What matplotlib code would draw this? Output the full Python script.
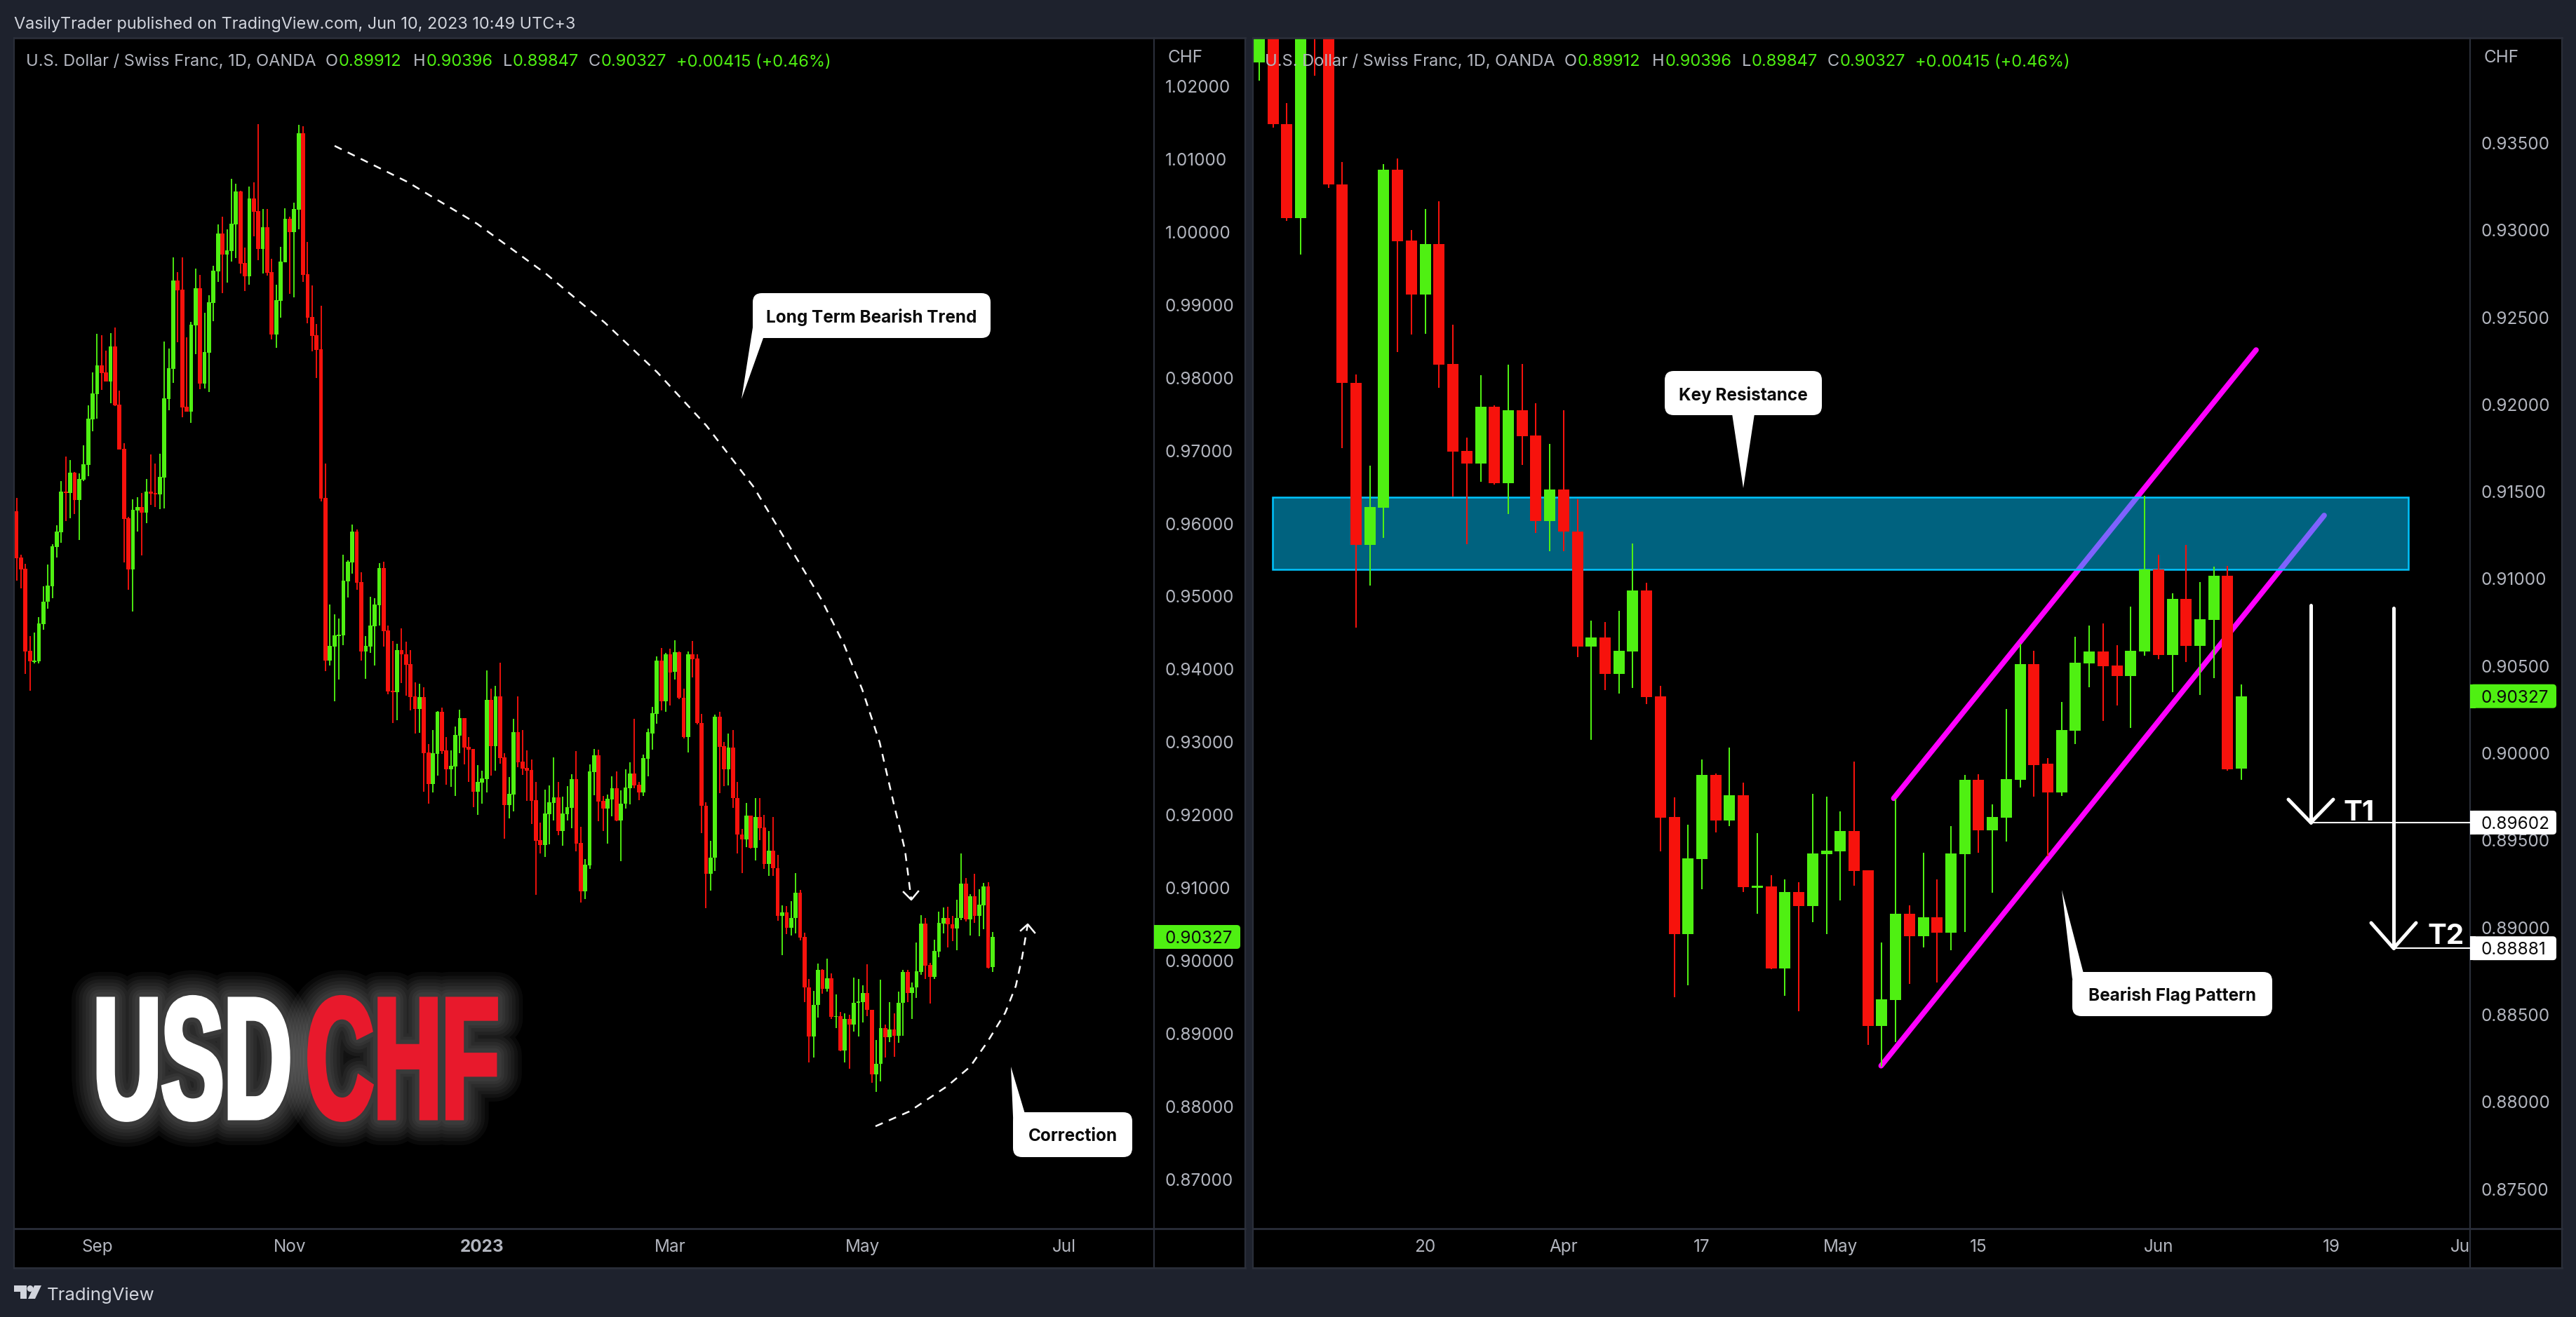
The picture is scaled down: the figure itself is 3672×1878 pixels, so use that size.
import numpy as np
import matplotlib
matplotlib.use("Agg")
import matplotlib.pyplot as plt
from matplotlib.patches import Rectangle, FancyBboxPatch, Polygon, Circle
from matplotlib.patheffects import AbstractPathEffect
from matplotlib.transforms import Affine2D

plt.rcParams['font.family'] = ['Inter', 'DejaVu Sans']

W, H = 3672, 1878

# daily USD/CHF candles. the right panel shows the last 72 of them
opens = [
    .96171, .95530, .95379, .94252, .94101, .94109, .94621, .94923, .95140, .95678,
    .95880, .96440, .96418, .96698, .96322, .96599, .96808, .97431, .97777, .98172,
    .98075, .97950, .98432, .97633, .97026, .96072, .95372, .96182, .96227, .96149,
    .96440, .96418, .96403, .96632, .97710, .98124, .99336, .99211, .97604, .97537,
    .98720, .99230, .97922, .98345, .99028, .99461, .99981, .99692, .99740, 1.00106,
    1.00558, .99577, .99394, 1.00462, 1.00289, .99769, 1.00068, .99452, .98595, .99057,
    .99586, 1.00183, 1.00000, 1.00308, 1.01357, .99423, .98836, .98586, .98393, .96352,
    .94120, .94311, .94455, .94466, .95206, .95468, .95891, .95199, .94245, .94311,
    .94591, .94879, .95391, .94532, .93704, .93682, .94264, .94205, .94072, .93630,
    .93457, .93619, .92860, .92426, .92838, .93416, .92886, .92628, .92665, .93089,
    .93332, .92934, .92908, .92319, .92444, .92492, .93582, .92945, .93630, .92790,
    .92138, .92282, .93137, .92735, .92647, .92617, .92205, .91656, .91590, .92013,
    .92168, .92242, .91781, .92013, .92102, .92492, .91615, .90950, .91313, .92588,
    .92820, .92194, .92087, .92212, .92367, .91921, .92157, .92370, .92570, .92417,
    .92309, .92771, .93120, .93385, .94121, .93561, .94205,
    .93964, .94234, .93608, .93068, .94205, .94151, .93262, .92124, .91194, .91410,
    .93348, .92942, .92632, .92922, .92234, .91732, .91660, .91988, .91550, .91968,
    .91824, .91330, .91514, .91271, .90613, .90664, .90456, .90583, .90932, .90325,
    .89634, .88962, .89392, .89874, .89614, .89759, .89228, .89235, .88764, .89203,
    .89122, .89420, .89436, .89554, .89327, .88436, .88584, .89078, .88951, .89060,
    .88970, .89420, .89847, .89558, .89630, .89847, .90512, .89939, .89775, .90129,
    .90514, .90583, .90503, .90443, .90583, .91054, .90563, .90886, .90616, .90763,
    .91017, .89912,
]
highs = [
    .96352, .95575, .95449, .94455, .94503, .94717, .95140, .95438, .95715, .95976,
    .96584, .96921, .96873, .96709, .96691, .97071, .97623, .98075, .98605, .98586,
    .98374, .98614, .98691, .97825, .97103, .96094, .96330, .96363, .96418, .96613,
    .96950, .96824, .96958, .98499, .98403, .99654, .99452, .99654, .98557, .98768,
    .99500, .99413, .98894, .99134, .99538, 1.00106, 1.00212, 1.00039, 1.00732, 1.00664,
    1.00568, .99789, 1.00626, 1.00684, 1.01482, 1.00318, 1.00318, .99635, .99278, .99798,
    1.00328, 1.00212, 1.00405, 1.01473, 1.01453, .99866, .99269, .98739, .98990, .96824,
    .94890, .94753, .94698, .95575, .95494, .95987, .95917, .95332, .94455, .94996,
    .94974, .95457, .95475, .94602, .94389, .94352, .94562, .94378, .94264, .93822,
    .93799, .93755, .92974, .93166, .93427, .93475, .93070, .92886, .93214, .93442,
    .93332, .93070, .92908, .92687, .92610, .93984, .93733, .93774, .94090, .92849,
    .92521, .93321, .93630, .93166, .92886, .92761, .92455, .91895, .92348, .92407,
    .92790, .92455, .92253, .92396, .92558, .92879, .91840, .91395, .92695, .92908,
    .92897, .92260, .92282, .92532, .92599, .92337, .92628, .92720, .93321, .92452,
    .92825, .93188, .93483, .94180, .94293, .94229, .94278,
    .94401, .94244, .93730, .94244, .94386, .94210, .93390, .92174, .91648, .93380,
    .93412, .93002, .93122, .93166, .92456, .91812, .92170, .91996, .92230, .92234,
    .92006, .91776, .91968, .91456, .90761, .90752, .90817, .91202, .90976, .90385,
    .89747, .89590, .89964, .89884, .90032, .89831, .89542, .89300, .89277, .89260,
    .89766, .89750, .89667, .89951, .89327, .88914, .89738, .89126, .89429, .89277,
    .89581, .89874, .89879, .89706, .90253, .90627, .90588, .89971, .90292, .90669,
    .90731, .90745, .90620, .90840, .91475, .91137, .90918, .91193, .90980, .91070,
    .91075, .90396,
]
lows = [
    .95217, .95111, .93936, .93707, .94079, .94079, .94543, .94831, .94974, .95534,
    .95737, .96035, .96072, .96131, .95774, .96587, .96654, .97270, .97444, .97838,
    .97950, .97652, .97614, .97017, .95468, .95092, .94794, .95891, .95564, .96006,
    .96256, .96227, .96197, .96212, .97556, .97931, .98489, .97460, .97537, .97383,
    .98326, .97845, .97854, .97806, .98778, .99317, .99163, .99307, .99596, .99644,
    .99432, .99192, .99278, .99942, .99615, .99432, .99404, .98528, .98412, .98826,
    .99586, .99153, .99105, 1.00039, .99317, .98749, .98364, .97998, .96304, .93976,
    .94054, .93560, .93858, .94330, .94985, .95313, .95092, .94120, .93869, .94227,
    .94054, .94602, .94311, .93656, .93265, .93302, .93811, .93641, .93439, .93118,
    .93129, .92319, .92157, .92312, .92536, .92838, .92415, .92389, .92264, .92849,
    .92695, .92455, .92109, .92002, .92157, .92312, .92536, .92610, .92706, .91671,
    .91954, .92050, .92658, .92551, .92190, .91877, .90900, .91476, .91420, .91597,
    .91929, .91726, .91579, .91929, .91818, .91501, .90800, .90850, .91265, .92271,
    .91914, .91781, .91608, .91984, .91914, .91369, .92087, .92142, .92368, .92206,
    .92260, .92530, .92899, .93252, .93439, .93419, .93502,
    .93856, .93590, .93052, .92860, .93886, .93242, .91750, .90720, .90960, .91236,
    .92300, .92400, .92404, .92094, .91474, .91200, .91556, .91542, .91372, .91654,
    .91262, .91160, .91160, .90553, .90078, .90364, .90343, .90373, .90283, .89436,
    .88602, .88669, .89219, .89544, .89581, .89205, .89078, .88762, .88607, .88519,
    .89029, .88962, .89154, .89239, .88327, .88203, .88344, .88676, .88886, .88685,
    .88870, .88974, .89429, .89200, .89494, .89803, .89750, .89410, .89754, .90052,
    .90378, .90184, .90274, .90145, .90558, .90539, .90350, .90523, .90334, .90430,
    .89898, .89847,
]
closes = [
    .95527, .95372, .94245, .94105, .94120, .94628, .94926, .95151, .95689, .95891,
    .96440, .96418, .96698, .96322, .96613, .96816, .97440, .97787, .98172, .98066,
    .97950, .98432, .97623, .97017, .96065, .95372, .96186, .96227, .96149, .96440,
    .96411, .96396, .96643, .97719, .98133, .99336, .99202, .97594, .97537, .98730,
    .99230, .97922, .98355, .99038, .99471, .99981, .99692, .99750, 1.00116, 1.00558,
    .99567, .99394, 1.00462, 1.00279, .99769, 1.00068, .99442, .98595, .99067, .99596,
    1.00183, 1.00000, 1.00318, 1.01357, .99413, .98826, .98576, .98383, .96344, .94120,
    .94322, .94466, .94477, .95217, .95475, .95891, .95188, .94245, .94322, .94602,
    .94890, .95391, .94525, .93696, .93682, .94264, .94201, .94065, .93623, .93457,
    .93619, .92849, .92426, .92853, .93416, .92879, .92628, .92676, .93100, .93332,
    .92927, .92897, .92319, .92455, .92503, .93582, .92945, .93630, .92783, .92138,
    .92289, .93137, .92724, .92636, .92610, .92194, .91645, .91590, .92021, .92175,
    .92242, .91781, .92021, .92109, .92492, .91608, .90950, .91317, .92595, .92820,
    .92186, .92087, .92223, .92367, .91921, .92160, .92378, .92569, .92403, .92309,
    .92781, .93134, .93399, .94121, .93561, .94205, .93959,
    .94234, .93608, .93068, .94205, .94141, .93262, .92124, .91194, .91414, .93348,
    .92938, .92632, .92922, .92230, .91728, .91660, .91988, .91550, .91968, .91820,
    .91330, .91514, .91270, .90613, .90664, .90456, .90588, .90932, .90322, .89632,
    .88962, .89396, .89874, .89614, .89759, .89233, .89240, .88764, .89203, .89122,
    .89424, .89440, .89554, .89325, .88436, .88588, .89078, .88951, .89060, .88970,
    .89424, .89847, .89558, .89634, .89851, .90512, .89932, .89775, .90133, .90519,
    .90583, .90498, .90443, .90588, .91054, .90563, .90886, .90616, .90768, .91017,
    .89907, .90327,
]

left_yticks = [.87, .88, .89, .90, .91, .92, .93, .94, .95, .96, .97, .98, .99, 1.00, 1.01, 1.02]
right_yticks = [.875, .88, .885, .89, .895, .90, .905, .91, .915, .92, .925, .93, .935]
left_xtick_pos = [18.1, 61, 103.9, 145.9, 189, 234]
left_xtick_lab = ["Sep", "Nov", "2023", "Mar", "May", "Jul"]
right_xtick_pos = [12, 22, 32, 42, 52, 65, 77.5, 86.8]
right_xtick_lab = ["20", "Apr", "17", "May", "15", "Jun", "19", "Ju"]

last_close = .90327
target_1 = .89602
target_2 = .88881
zone_low, zone_high = .91054, .9147
channel_upper = ([45.86, 72.06], [.89741, .92313])
channel_lower = ([44.95, 76.98], [.88207, .91364])

BG = "#1e222d"
LINE = "#2a2e39"
GREEN = "#4ff012"
RED = "#f7120c"
GREY = "#b2b5be"
ZONE = "#00c4fe"
MAGENTA = "#ff00ff"


def pane_axes(fig, left, top, right, bottom):
    return fig.add_axes([left / W, 1 - bottom / H, (right - left) / W, (bottom - top) / H],
                        facecolor="black")


def draw_candles(ax, o, h, l, c, body_width, wick_lw):
    o, h, l, c = map(np.array, (o, h, l, c))
    x = np.arange(len(o))
    colors = np.where(c >= o, GREEN, RED)
    ax.vlines(x, l, h, colors=list(colors), lw=wick_lw, zorder=3)
    ax.bar(x, np.abs(c - o), bottom=np.minimum(o, c), width=body_width, color=list(colors),
           linewidth=0, zorder=3.5)


def style_pane(ax, yticks, xpos, xlab, xlim, ylim):
    ax.set_xlim(*xlim)
    ax.set_ylim(*ylim)
    ax.yaxis.tick_right()
    ax.set_yticks(yticks, [f"{v:.5f}" for v in yticks])
    ax.set_xticks(xpos, xlab)
    ax.tick_params(axis="y", length=0, pad=11.5, labelsize=17.5, labelcolor=GREY)
    ax.tick_params(axis="x", length=0, pad=11, labelsize=17.5, labelcolor=GREY)
    for lab in ax.get_xticklabels():
        if lab.get_text() == "2023":
            lab.set_fontweight("bold")
    for spine in ax.spines.values():
        spine.set_visible(False)


class LogoEffect(AbstractPathEffect):
    """draws the text narrower than the font, with a white glow around it"""

    def __init__(self, sx, x0, stroke):
        super().__init__()
        self.sx, self.x0, self.stroke = sx, x0, stroke

    def draw_path(self, renderer, gc, tpath, affine, rgbFace=None):
        squeezed = affine + Affine2D().translate(-self.x0, 0).scale(self.sx, 1).translate(self.x0, 0)
        for width in [56, 48, 41, 34, 27, 20, 14]:
            gc0 = renderer.new_gc()
            gc0.copy_properties(gc)
            gc0.set_linewidth(width)
            gc0.set_foreground("white")
            gc0.set_alpha(0.04)
            gc0.set_joinstyle("round")
            gc0.set_capstyle("round")
            renderer.draw_path(gc0, tpath, squeezed, None)
            gc0.restore()
        gc1 = renderer.new_gc()
        gc1.copy_properties(gc)
        gc1.set_linewidth(self.stroke)
        gc1.set_foreground(rgbFace[:3])
        gc1.set_joinstyle("miter")
        renderer.draw_path(gc1, tpath, squeezed, rgbFace)
        gc1.restore()


def callout(ov, box, tail, label, radius=13):
    x0, y0, x1, y1 = box
    ov.add_patch(Polygon(tail, closed=True, fc="white", ec="none", zorder=6))
    ov.add_patch(FancyBboxPatch((x0 + radius, y0 + radius), x1 - x0 - 2 * radius, y1 - y0 - 2 * radius,
                                boxstyle=f"round,pad={radius},rounding_size={radius}",
                                fc="white", ec="none", zorder=6))
    ov.text((x0 + x1) / 2, (y0 + y1) / 2, label, color="#0b0b0b", fontsize=17.5, fontweight="bold",
            ha="center", va="center_baseline", zorder=7)


def price_tag(ov, x0, x1, yc, label, fc):
    ov.add_patch(FancyBboxPatch((x0 + 5, yc - 12), x1 - x0 - 10, 24, boxstyle="round,pad=5,rounding_size=5",
                                fc=fc, ec="none", zorder=5))
    ov.add_patch(Rectangle((x0, yc - 17), 8, 34, fc=fc, ec="none", zorder=5))
    ov.text(x0 + 16, yc, label, color="#0b0b0b", fontsize=17.5, ha="left", va="center_baseline", zorder=6)


def legend_row(ov, dx):
    # title and OHLC values as TradingView lays them out
    parts = [("U.S. Dollar / Swiss Franc, 1D, OANDA", GREY, 37), ("O", GREY, 464), ("0.89912", GREEN, 483),
             ("H", GREY, 589), ("0.90396", GREEN, 608), ("L", GREY, 717), ("0.89847", GREEN, 731),
             ("C", GREY, 839), ("0.90327", GREEN, 857), ("+0.00415 (+0.46%)", GREEN, 964)]
    for txt, col, x in parts:
        ov.text(x + dx, 86, txt, color=col, fontsize=17, ha="left", va="center_baseline", zorder=8)


fig = plt.figure(figsize=(W / 100, H / 100), dpi=100, facecolor=BG)

# ---- left panel: whole history
axl = pane_axes(fig, 20, 54, 1645, 1752)
draw_candles(axl, opens, highs, lows, closes, 0.9, 1.35)
style_pane(axl, left_yticks, left_xtick_pos, left_xtick_lab,
           ((20 - 23.5) / 6.383, (1645 - 23.5) / 6.383), (.86323, 1.02666))

# ---- right panel: last 72 candles
axr = pane_axes(fig, 1786, 54, 3521, 1752)
draw_candles(axr, opens[-72:], highs[-72:], lows[-72:], closes[-72:], 0.81, 1.45)
style_pane(axr, right_yticks, right_xtick_pos, right_xtick_lab,
           ((1786 - 1795) / 19.72, (3521 - 1795) / 19.72), (.87273, .94103))
for xs, ys in (channel_upper, channel_lower):
    axr.plot(xs, ys, color=MAGENTA, lw=5.5, solid_capstyle="round", zorder=1)
axr.add_patch(Rectangle((0.96, zone_low), 82.1, zone_high - zone_low, fc=(0, 196 / 255, 254 / 255, .5),
                        ec=ZONE, lw=1.8, zorder=2))

# black strips behind the price and time scales
for box in [(1645, 54, 1775, 1808), (20, 1752, 1775, 1808), (3521, 54, 3652, 1808), (1786, 1752, 3652, 1808)]:
    fig.add_artist(Rectangle((box[0] / W, 1 - box[3] / H), (box[2] - box[0]) / W, (box[3] - box[1]) / H,
                             fc="black", ec="none", transform=fig.transFigure, zorder=-1))

# ---- overlay in picture pixels for the drawings and labels
ov = fig.add_axes([0, 0, 1, 1], facecolor="none", zorder=5)
ov.set_xlim(0, W)
ov.set_ylim(H, 0)
ov.axis("off")

# panel borders
for x0, x1, y in [(20, 1775, 1752), (1786, 3652, 1752), (20, 1775, 1808), (1786, 3652, 1808),
                  (20, 1775, 54), (1786, 3652, 54)]:
    ov.plot([x0, x1], [y, y], color=LINE, lw=2, zorder=2)
for x, y0, y1 in [(1645, 54, 1808), (3521, 54, 1808), (20, 54, 1808), (1775, 54, 1808), (1786, 54, 1808), (3652, 54, 1808)]:
    ov.plot([x, x], [y0, y1], color=LINE, lw=1.6, zorder=2)

ov.text(20, 32, "VasilyTrader published on TradingView.com, Jun 10, 2023 10:49 UTC+3", color="#d1d4dc",
        fontsize=16.9, ha="left", va="center_baseline")
legend_row(ov, 0)
legend_row(ov, 1766)
ov.text(1665, 80, "CHF", color=GREY, fontsize=17.5, ha="left", va="center_baseline")
ov.text(3541, 80, "CHF", color=GREY, fontsize=17.5, ha="left", va="center_baseline")

# footer logo
ov.add_patch(Polygon([(20, 1833), (38, 1833), (38, 1852), (29, 1852), (29, 1842), (20, 1842)], fc="#d1d4dc", ec="none"))
ov.add_patch(Circle((43, 1837.5), 4.5, fc="#d1d4dc", ec="none"))
ov.add_patch(Polygon([(49, 1833), (59, 1833), (50, 1852), (40, 1852)], fc="#d1d4dc", ec="none"))
ov.text(67, 1845, "TradingView", color="#d1d4dc", fontsize=18.5, ha="left", va="center_baseline")

# price tags
price_tag(ov, 1645, 1768, 1370 + (.90 - last_close) * 10390, "0.90327", GREEN)
yr = lambda p: 1074 + (.90 - p) * 24860
price_tag(ov, 3521, 3644, yr(last_close), "0.90327", GREEN)
price_tag(ov, 3521, 3644, yr(target_1), "0.89602", "white")
price_tag(ov, 3521, 3644, yr(target_2), "0.88881", "white")

# dashed trend arcs
arc_down = [(477, 208), (580, 259), (680, 319), (779, 391), (862, 460), (937, 531), (1007, 607), (1074, 694),
            (1171, 855), (1203, 919), (1229, 983), (1254, 1059), (1274, 1146), (1290, 1212), (1299, 1283)]
arc_up = [(1248, 1606), (1296, 1585), (1350, 1549), (1383, 1521), (1408, 1485), (1433, 1444), (1448, 1406),
          (1457, 1365), (1465, 1318)]
for pts, head in [(arc_down, [(1288, 1272), (1299, 1283), (1309, 1271)]),
                  (arc_up, [(1455, 1327), (1465, 1318), (1475, 1330)])]:
    ov.plot(*zip(*pts), color="white", lw=1.8, dashes=(4.5, 3.8), zorder=4)
    ov.plot(*zip(*head), color="white", lw=1.8, zorder=4)

# target arrows
for x, top, tip, head_y, name, tx, ty in [(3294, 863, yr(target_1), 1140, "T1", 3341, 1155),
                                          (3412, 867, yr(target_2), 1316, "T2", 3460, 1332)]:
    ov.plot([x, x], [top, tip], color="white", lw=3.6, solid_capstyle="round", zorder=4)
    ov.plot([x - 32, x, x + 32], [head_y, tip, head_y], color="white", lw=3.6,
            solid_capstyle="round", solid_joinstyle="round", zorder=4)
    ov.plot([x, 3521], [tip, tip], color="white", lw=1.5, zorder=4)
    ov.text(tx, ty, name, color="white", fontsize=29, fontweight="bold", ha="left", va="center_baseline", zorder=4)

# callouts
callout(ov, (1073, 418, 1412, 482), [(1073, 467), (1057, 569), (1088, 482)], "Long Term Bearish Trend")
callout(ov, (2373, 529, 2597, 592), [(2469, 590), (2485, 696), (2501, 590)], "Key Resistance")
callout(ov, (1444, 1586, 1614, 1650), [(1445, 1615), (1441, 1521), (1461, 1588)], "Correction")
callout(ov, (2954, 1386, 3239, 1449), [(2954, 1396), (2939, 1269), (2970, 1388)], "Bearish Flag Pattern")

# big USDCHF logo
ov.text(133, 1594, "USD", color="white", fontsize=177, fontweight="bold", family="Liberation Sans",
        ha="left", va="baseline", zorder=3, path_effects=[LogoEffect(0.545, 133, 5)])
ov.text(436, 1594, "CHF", color="#e8192c", fontsize=177, fontweight="bold", family="Liberation Sans",
        ha="left", va="baseline", zorder=3, path_effects=[LogoEffect(0.545, 436, 5)])

fig.savefig("out.png", dpi=100, facecolor=BG)
